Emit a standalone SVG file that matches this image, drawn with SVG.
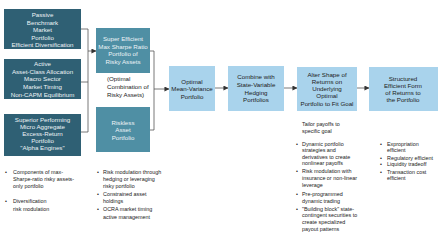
<svg xmlns="http://www.w3.org/2000/svg" width="444" height="240" viewBox="0 0 444 240">
<style>
text{font-family:"Liberation Sans",Arial,sans-serif;font-size:6.2px}
.c{text-anchor:middle}
.w{fill:#eef4f7}
.k{fill:#222}
.s{font-size:5.4px;fill:#222}
.dk{fill:#2f6074}
.md{fill:#4f8fa4}
.lt{fill:#a9d3ec}
.ln{fill:none;stroke:#555;stroke-width:0.8}
</style>
<defs>
<marker id="ah" viewBox="0 0 6 6" refX="5.5" refY="3" markerWidth="5" markerHeight="5" orient="auto" markerUnits="userSpaceOnUse">
<path d="M0,0L6,3L0,6z" fill="#333"/>
</marker>
</defs>
<rect width="444" height="240" fill="#fff"/>
<g id="connectors">
<polyline class="ln" points="81,29 88,29 88,132 81,132"/>
<line class="ln" x1="81" y1="82" x2="88" y2="82"/>
<line class="ln" x1="88" y1="51" x2="96" y2="51" marker-end="url(#ah)"/>
<polyline class="ln" points="150,51 154,51 154,130 150,130"/>
<line class="ln" x1="154" y1="89" x2="169" y2="89" marker-end="url(#ah)"/>
<line class="ln" x1="215" y1="88" x2="228" y2="88" marker-end="url(#ah)"/>
<line class="ln" x1="284" y1="88" x2="297" y2="88" marker-end="url(#ah)"/>
<line class="ln" x1="357" y1="88" x2="369" y2="88" marker-end="url(#ah)"/>
</g>
<g id="passive">
<rect class="dk" x="4" y="9" width="77" height="40"/>
<text class="c w" x="42.5" y="17">Passive</text>
<text class="c w" x="42.5" y="25">Benchmark</text>
<text class="c w" x="42.5" y="32">Market</text>
<text class="c w" x="42.5" y="40">Portfolio</text>
<text class="c w" x="42.5" y="47">Efficient Diversification</text>
</g>
<g id="active">
<rect class="dk" x="4" y="59" width="77" height="40"/>
<text class="c w" x="42.5" y="66">Active</text>
<text class="c w" x="42.5" y="74">Asset-Class Allocation</text>
<text class="c w" x="42.5" y="81">Macro Sector</text>
<text class="c w" x="42.5" y="89">Market Timing</text>
<text class="c w" x="42.5" y="97">Non-CAPM Equilibrium</text>
</g>
<g id="superior">
<rect class="dk" x="4" y="114" width="77" height="42"/>
<text class="c w" x="42.5" y="122">Superior Performing</text>
<text class="c w" x="42.5" y="129">Micro Aggregate</text>
<text class="c w" x="42.5" y="136">Excess-Return</text>
<text class="c w" x="42.5" y="143">Portfolio</text>
<text class="c w" x="42.5" y="150">"Alpha Engines"</text>
</g>
<g id="super-efficient">
<rect class="md" x="96" y="28" width="54" height="45"/>
<text class="c w" x="123" y="41">Super Efficient</text>
<text class="c w" x="123" y="49">Max Sharpe Ratio</text>
<text class="c w" x="123" y="56">Portfolio of</text>
<text class="c w" x="123" y="64">Risky Assets</text>
</g>
<g id="optimal-combination-label">
<text class="k" x="107" y="81">(Optimal</text>
<text class="k" x="107" y="89">Combination of</text>
<text class="k" x="107" y="97">Risky Assets)</text>
</g>
<g id="riskless">
<rect class="md" x="96" y="107" width="54" height="45"/>
<text class="c w" x="123" y="125">Riskless</text>
<text class="c w" x="123" y="132">Asset</text>
<text class="c w" x="123" y="140">Portfolio</text>
</g>
<g id="optimal-mv">
<rect class="lt" x="169" y="66" width="46" height="45"/>
<text class="c k" x="192" y="84">Optimal</text>
<text class="c k" x="192" y="91">Mean-Variance</text>
<text class="c k" x="192" y="99">Portfolio</text>
</g>
<g id="combine">
<rect class="lt" x="228" y="66" width="56" height="45"/>
<text class="c k" x="256" y="79">Combine with</text>
<text class="c k" x="256" y="87">State-Variable</text>
<text class="c k" x="256" y="95">Hedging</text>
<text class="c k" x="256" y="102">Portfolios</text>
</g>
<g id="alter">
<rect class="lt" x="297" y="67" width="60" height="44"/>
<text class="c k" x="327" y="77">Alter Shape of</text>
<text class="c k" x="327" y="84">Returns on</text>
<text class="c k" x="327" y="91">Underlying</text>
<text class="c k" x="327" y="98">Optimal</text>
<text class="c k" x="327" y="106">Portfolio to Fit Goal</text>
</g>
<g id="structured">
<rect class="lt" x="369" y="67" width="69" height="44"/>
<text class="c k" x="403" y="81">Structured</text>
<text class="c k" x="403" y="88">Efficient Form</text>
<text class="c k" x="403" y="95">of Returns to</text>
<text class="c k" x="403" y="102">the Portfolio</text>
</g>
<g id="notes">
<text class="s" x="5" y="174">•</text>
<text class="s" x="13" y="174">Components of max-</text>
<text class="s" x="13" y="181">Sharpe-ratio risky assets-</text>
<text class="s" x="13" y="188">only portfolio</text>
<text class="s" x="5" y="203">•</text>
<text class="s" x="13" y="203">Diversification</text>
<text class="s" x="13" y="211">risk modulation</text>

<text class="s" x="97" y="174">•</text>
<text class="s" x="103" y="174">Risk modulation  through</text>
<text class="s" x="103" y="181">hedging or leveraging</text>
<text class="s" x="103" y="188">risky portfolio</text>
<text class="s" x="97" y="196">•</text>
<text class="s" x="103" y="196">Constrained asset</text>
<text class="s" x="103" y="203">holdings</text>
<text class="s" x="97" y="211">•</text>
<text class="s" x="103" y="211">OCRA market timing</text>
<text class="s" x="103" y="219">active management</text>

<text class="s" x="302" y="126">Tailor payoffs to</text>
<text class="s" x="302" y="133">specific goal</text>
<text class="s" x="296" y="146">•</text>
<text class="s" x="302" y="146">Dynamic  portfolio</text>
<text class="s" x="302" y="152">strategies and</text>
<text class="s" x="302" y="159">derivatives to create</text>
<text class="s" x="302" y="165">nonlinear payoffs</text>
<text class="s" x="296" y="173">•</text>
<text class="s" x="302" y="173">Risk modulation with</text>
<text class="s" x="302" y="180">insurance or non-linear</text>
<text class="s" x="302" y="187">leverage</text>
<text class="s" x="296" y="196">•</text>
<text class="s" x="302" y="196">Pre-programmed</text>
<text class="s" x="302" y="203">dynamic trading</text>
<text class="s" x="296" y="211">•</text>
<text class="s" x="302" y="211">"Building block" state-</text>
<text class="s" x="302" y="217">contingent securities to</text>
<text class="s" x="302" y="224">create specialized</text>
<text class="s" x="302" y="231">payout patterns</text>

<text class="s" x="380" y="146">•</text>
<text class="s" x="387" y="146">Expropriation</text>
<text class="s" x="387" y="152">efficient</text>
<text class="s" x="380" y="160">•</text>
<text class="s" x="387" y="160">Regulatory efficient</text>
<text class="s" x="380" y="166">•</text>
<text class="s" x="387" y="166">Liquidity tradeoff</text>
<text class="s" x="380" y="174">•</text>
<text class="s" x="387" y="174">Transaction cost</text>
<text class="s" x="387" y="180">efficient</text>
</g>
</svg>
